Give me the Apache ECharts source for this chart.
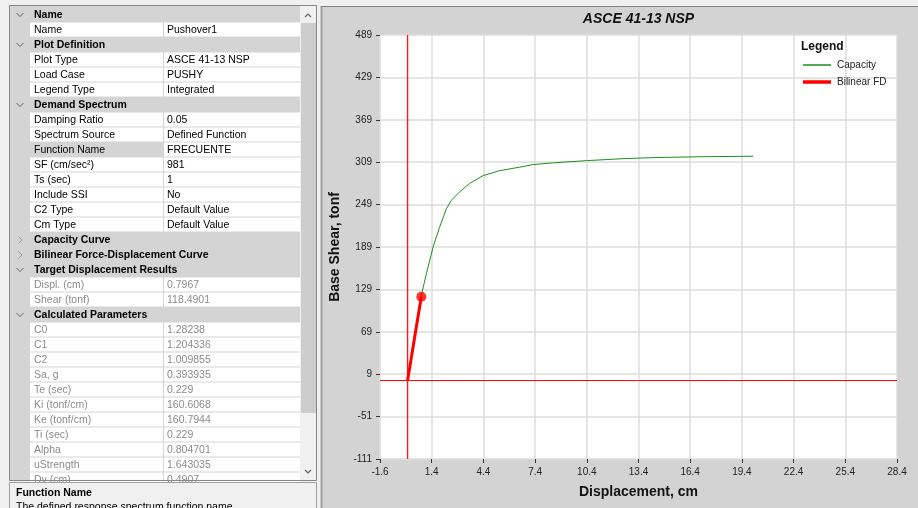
<!DOCTYPE html>
<html><head><meta charset="utf-8">
<script src="https://cdn.jsdelivr.net/npm/echarts@6/dist/echarts.min.js"></script>
<style>html,body{margin:0;padding:0;background:#f0f0f0}#c{width:918px;height:508px}</style>
</head><body><div id="c"></div>
<script>
// ---- data ----
const capacityX = [0, 0.4, 0.8, 1.09, 1.48, 1.86, 2.25, 2.54, 3.02, 3.6, 4.38, 5.35, 6.51, 7.28, 8.4, 9.51, 10.38, 12.5, 14.24, 17.43, 20.05];
const capacityY = [0, 64, 121, 151, 189, 217, 243, 255, 267, 279, 290, 297, 302, 305.6, 308, 309.8, 311.2, 314, 315.5, 316.9, 317.4];
const bilinearX = [0, 0.7967];
const bilinearY = [0, 118.4901];
const targetPoint = [0.7967, 118.4901];
const zeroLineX = [0, 0];
const zeroLineXY = [-111, 489];
const zeroLineYX = [-1.6, 28.4];
const zeroLineY = [0, 0];
const xTickLabels = ['-1.6','1.4','4.4','7.4','10.4','13.4','16.4','19.4','22.4','25.4','28.4'];
const yTickLabels = ['-111','-51','9','69','129','189','249','309','369','429','489'];
const seriesNames = ['Capacity', 'Bilinear FD'];
// property grid rows: type H=expanded header, C=collapsed header, P=property, S=selected property, R=read-only
const propertyRows = [
  ['H','Name',''],
  ['P','Name','Pushover1'],
  ['H','Plot Definition',''],
  ['P','Plot Type','ASCE 41-13 NSP'],
  ['P','Load Case','PUSHY'],
  ['P','Legend Type','Integrated'],
  ['H','Demand Spectrum',''],
  ['P','Damping Ratio','0.05'],
  ['P','Spectrum Source','Defined Function'],
  ['S','Function Name','FRECUENTE'],
  ['P','SF (cm/sec²)','981'],
  ['P','Ts (sec)','1'],
  ['P','Include SSI','No'],
  ['P','C2 Type','Default Value'],
  ['P','Cm Type','Default Value'],
  ['C','Capacity Curve',''],
  ['C','Bilinear Force-Displacement Curve',''],
  ['H','Target Displacement Results',''],
  ['R','Displ. (cm)','0.7967'],
  ['R','Shear (tonf)','118.4901'],
  ['H','Calculated Parameters',''],
  ['R','C0','1.28238'],
  ['R','C1','1.204336'],
  ['R','C2','1.009855'],
  ['R','Sa, g','0.393935'],
  ['R','Te (sec)','0.229'],
  ['R','Ki (tonf/cm)','160.6068'],
  ['R','Ke (tonf/cm)','160.7944'],
  ['R','Ti (sec)','0.229'],
  ['R','Alpha','0.804701'],
  ['R','uStrength','1.643035'],
  ['R','Dy (cm)','0.4907']
];
const descTitle = 'Function Name';
const descText = 'The defined response spectrum function name.';
const chartTitle = 'ASCE 41-13 NSP';

// ---- graphics for the property grid ----
const UI = 'Liberation Sans, Arial, sans-serif';
const g = [];
g.push({type:'rect', z:-20, shape:{x:321, y:6, width:597, height:502}, style:{fill:'#d3d3d3'}});
g.push({type:'line', z:-19, shape:{x1:321.5, y1:6, x2:321.5, y2:508}, style:{stroke:'#a0a0a0', lineWidth:2}});
g.push({type:'line', z:-19, shape:{x1:321, y1:6.5, x2:918, y2:6.5}, style:{stroke:'#808080', lineWidth:1}});
g.push({type:'rect', z:-20, shape:{x:9, y:5, width:308, height:476}, style:{fill:'#d4d4d4'}});
propertyRows.forEach((r, i) => {
  const top = 7.5 + 15 * i, cy = 15 + 15 * i;
  const t = r[0];
  if (t === 'H' || t === 'C') {
    g.push({type:'rect', shape:{x:10, y:top, width:290, height:15}, style:{fill:'#d4d4d4'}});
    g.push({type:'text', style:{text:r[1], x:34, y:cy, fontFamily:UI, fontSize:10.5, fontWeight:'bold', fill:'#000', verticalAlign:'middle'}});
    if (t === 'H') g.push({type:'polyline', shape:{points:[[16.5,cy-2],[20,cy+1.5],[23.5,cy-2]]}, style:{stroke:'#606060', lineWidth:1, fill:null}});
    else g.push({type:'polyline', shape:{points:[[18.5,cy-3.5],[22,cy],[18.5,cy+3.5]]}, style:{stroke:'#9a9a9a', lineWidth:1, fill:null}});
  } else {
    g.push({type:'rect', shape:{x:30, y:top, width:133, height:14}, style:{fill: t === 'S' ? '#d4d4d4' : '#fff'}});
    g.push({type:'rect', shape:{x:164, y:top, width:136, height:14}, style:{fill:'#fff'}});
    const col = t === 'R' ? '#8c8c8c' : '#000';
    g.push({type:'text', style:{text:r[1], x:34, y:cy, fontFamily:UI, fontSize:10.5, fill:col, verticalAlign:'middle'}});
    g.push({type:'text', style:{text:r[2], x:167, y:cy, fontFamily:UI, fontSize:10.5, fill:col, verticalAlign:'middle'}});
  }
});
// scrollbar
g.push({type:'rect', shape:{x:300, y:6, width:16, height:474}, style:{fill:'#f0f0f0'}});
g.push({type:'rect', shape:{x:301, y:23, width:15, height:390}, style:{fill:'#cdcdcd'}});
g.push({type:'polyline', shape:{points:[[305,17],[308,14],[311,17]]}, style:{stroke:'#606060', lineWidth:1.2, fill:null}});
g.push({type:'polyline', shape:{points:[[305,470],[308,473],[311,470]]}, style:{stroke:'#606060', lineWidth:1.2, fill:null}});
// border
g.push({type:'rect', shape:{x:9.5, y:5.5, width:307, height:475}, style:{fill:null, stroke:'#828790', lineWidth:1}});
// description panel
g.push({type:'rect', shape:{x:9.5, y:482.5, width:307, height:30}, style:{fill:'#f0f0f0', stroke:'#a0a0a0', lineWidth:1}});
g.push({type:'text', style:{text:descTitle, x:16, y:493, fontFamily:UI, fontSize:10.5, fontWeight:'bold', fill:'#000', verticalAlign:'middle'}});
g.push({type:'text', style:{text:descText, x:16, y:507, fontFamily:UI, fontSize:10.5, fill:'#000', verticalAlign:'middle'}});
// chart title and legend title
g.push({type:'text', style:{text:chartTitle, x:638.5, y:19, fontFamily:'Liberation Sans, Arial', fontSize:14, fontWeight:'bold', fontStyle:'italic', fill:'#111', align:'center', verticalAlign:'middle'}});
g.push({type:'text', z:10, style:{text:'Legend', x:801, y:47, fontFamily:'Liberation Sans, Arial', fontSize:12, fontWeight:'bold', fill:'#111', verticalAlign:'middle'}});

const zip = (a, b) => a.map((v, i) => [v, b[i]]);
const legendBase = {orient:'vertical', left:803, padding:0, itemWidth:28, itemGap:0, selectedMode:false, icon:'rect',
  textStyle:{fontSize:10, color:'#222', padding:[0,0,0,1]}};
const chart = echarts.init(document.getElementById('c'), null, {renderer:'canvas'});
chart.setOption({
  animation: false,
  backgroundColor: '#f0f0f0',
  textStyle: {fontFamily: 'Liberation Sans, Arial, sans-serif'},
  graphic: g,
  grid: {left:380, top:35, width:517, height:424, show:true, backgroundColor:'#fff', borderWidth:0},
  legend: [
    Object.assign({}, legendBase, {data:[seriesNames[0]], top:60, itemHeight:1.5}),
    Object.assign({}, legendBase, {data:[seriesNames[1]], top:77, itemHeight:3.5})
  ],
  xAxis: {
    type:'value', min:-1.6, max:28.4, interval:3,
    name:'Displacement, cm', nameLocation:'middle', nameGap:26,
    nameTextStyle:{fontSize:14, fontWeight:'bold', color:'#111'},
    axisLine:{show:false, onZero:false}, axisTick:{show:true, length:4, lineStyle:{color:'#333'}},
    axisLabel:{fontSize:10, color:'#222', margin:8, formatter:(v, i) => xTickLabels[i]},
    splitLine:{show:true, lineStyle:{color:'#dcdcdc', width:1.5}}
  },
  yAxis: {
    type:'value', min:-111, max:489, interval:60,
    name:'Base Shear, tonf', nameLocation:'middle', nameGap:38, nameRotate:90,
    nameTextStyle:{fontSize:14, fontWeight:'bold', color:'#111'},
    axisLine:{show:false, onZero:false}, axisTick:{show:true, length:4, lineStyle:{color:'#333'}},
    axisLabel:{fontSize:10, color:'#222', margin:8, formatter:(v, i) => yTickLabels[i]},
    splitLine:{show:true, lineStyle:{color:'#dcdcdc', width:1.5}}
  },
  series: [
    {name:'zeroX', type:'line', data: zip(zeroLineX, zeroLineXY), symbol:'none', color:'#ff0000', lineStyle:{color:'#ff1a1a', width:1.4}, silent:true, z:1},
    {name:'zeroY', type:'line', data: zip(zeroLineYX, zeroLineY), symbol:'none', color:'#ff0000', lineStyle:{color:'#ff0000', width:1}, silent:true, z:1},
    {name:seriesNames[0], type:'line', data: zip(capacityX, capacityY), symbol:'none', color:'#1f8f1f', lineStyle:{color:'#1f8f1f', width:1}, z:2},
    {name:seriesNames[1], type:'line', data: zip(bilinearX, bilinearY), symbol:'none', color:'#ff0000', lineStyle:{color:'#ff0000', width:3}, z:3},
    {name:'Target', type:'scatter', data:[targetPoint], symbol:'circle', symbolSize:10, itemStyle:{color:'#ff0000'}, z:4}
  ]
});
</script></body></html>
